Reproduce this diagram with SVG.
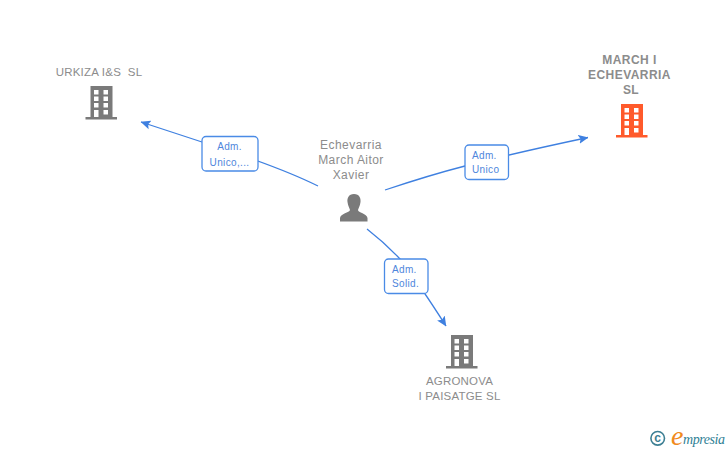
<svg xmlns="http://www.w3.org/2000/svg" width="728" height="450" viewBox="0 0 728 450">
<style>
text{font-family:"Liberation Sans",Arial,sans-serif}
.name{font-size:11.500px;fill:#8c8c8c;text-anchor:middle;letter-spacing:.2px;white-space:pre}
.bold{font-weight:700;font-size:12px;letter-spacing:.45px}
.person{font-size:12px;letter-spacing:.45px}
.edge{fill:none;stroke:#3f80e0;stroke-width:1.300}
.lab{fill:#fff;stroke:#4a8be6;stroke-width:1.300}
.labt{font-size:10px;fill:#4f86dc;letter-spacing:.35px}
.grey{fill:#7a7a7a}
.red{fill:#ff5a2b}
</style>
<defs>
<marker id="arr" viewBox="0 0 10 10" refX="9.500" refY="5" markerWidth="10" markerHeight="10" markerUnits="userSpaceOnUse" orient="auto"><path d="M0 0.500L10 5L0 9.500L2 5Z" fill="#3f80e0"/></marker>
<path id="bld" fill-rule="evenodd" d="M5 0H27V31H31.500V33.500H0V31H5ZM8.500 4V8.500H13V4ZM18 4V8.500H22.500V4ZM8.500 10.500V15H13V10.500ZM18 10.500V15H22.500V10.500ZM8.500 17V21.500H13V17ZM18 17V21.500H22.500V17ZM8.500 24V31H13V24ZM18 24V28.500H22.500V24Z"/>
</defs>
<g id="connectors">
<path class="edge" marker-end="url(#arr)" d="M318 186Q280 167 202 142L141 122"/>
<path class="edge" marker-end="url(#arr)" d="M385 190Q430 175 465 166Q510 154 588 137.500"/>
<path class="edge" marker-end="url(#arr)" d="M367 229Q385 243 400 259Q420 285 446 326"/>
</g>
<g id="edge-label-1"><rect class="lab" x="202" y="136.500" width="56" height="34.500" rx="4"/><text class="labt" x="229.500" y="150" text-anchor="middle">Adm.</text><text class="labt" x="229.500" y="165.500" text-anchor="middle">Unico,...</text></g>
<g id="edge-label-2"><rect class="lab" x="465" y="145" width="43.500" height="34.500" rx="4"/><text class="labt" x="472" y="158.500">Adm.</text><text class="labt" x="472" y="173">Unico</text></g>
<g id="edge-label-3"><rect class="lab" x="384.500" y="259" width="43.500" height="34.500" rx="4"/><text class="labt" x="392" y="272.500">Adm.</text><text class="labt" x="392" y="287">Solid.</text></g>
<g id="node-urkiza"><text class="name" x="99" y="76">URKIZA I&amp;S  SL</text><use href="#bld" class="grey" x="85.500" y="86"/></g>
<g id="node-march"><text class="name bold" x="629.500" y="64">MARCH I</text><text class="name bold" x="629.500" y="79">ECHEVARRIA</text><text class="name bold" x="631" y="94">SL</text><use href="#bld" class="red" x="616" y="104"/></g>
<g id="node-agronova"><use href="#bld" class="grey" x="446" y="335"/><text class="name" x="459.500" y="385">AGRONOVA</text><text class="name" x="459.500" y="400">I PAISATGE SL</text></g>
<g id="node-person"><text class="name person" x="351" y="149">Echevarria</text><text class="name person" x="351" y="164">March Aitor</text><text class="name person" x="351" y="179">Xavier</text><path class="grey" d="M354 194C359.500 194 361 198.500 360.500 202C360 206 358.500 208 358 210C358 212.500 367 213.500 367.500 218V221.500H340V218C340.500 213.500 349.500 212.500 350 210C349.500 208 348 206 347.500 202C347 198.500 348.500 194 354 194Z"/></g>
<g id="logo"><circle cx="657.700" cy="438.300" r="6.800" fill="none" stroke="#3d7f93" stroke-width="1.600"/><text x="657.700" y="442.300" font-size="12" fill="#3d7f93" text-anchor="middle" font-weight="700">c</text><text x="671" y="445" font-size="28" fill="#f08a1d" font-style="italic" style="font-family:'Liberation Serif',serif">e</text><text x="683" y="444" font-size="14" fill="#2f7f95" font-style="italic" style="font-family:'Liberation Serif',serif" textLength="42">mpresia</text></g>
</svg>
